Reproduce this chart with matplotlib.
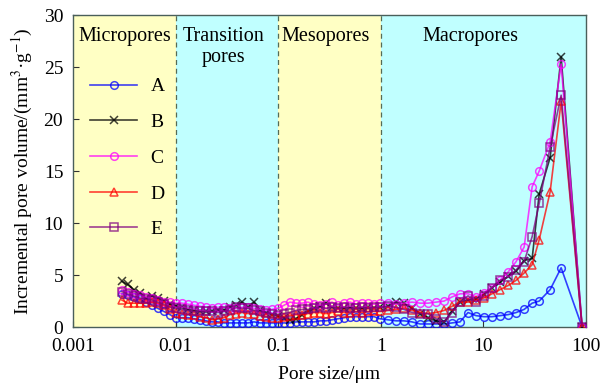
import matplotlib
matplotlib.use("Agg")
import matplotlib.pyplot as plt

plt.rcParams['font.family'] = ['Liberation Serif', 'DejaVu Serif']
plt.rcParams['mathtext.fontset'] = 'stix'

pore_size = [0.0030, 0.0034, 0.0039, 0.0045, 0.0051, 0.0059, 0.0067, 0.0077, 0.0088, 0.0101,
             0.0115, 0.0132, 0.0151, 0.0173, 0.0198, 0.0226, 0.0259, 0.0296, 0.0339, 0.0388,
             0.0444, 0.0508, 0.0581, 0.0665, 0.0761, 0.0870, 0.0995, 0.114, 0.130, 0.149,
             0.171, 0.195, 0.223, 0.256, 0.292, 0.334, 0.383, 0.438, 0.501, 0.573,
             0.656, 0.750, 0.858, 0.982, 1.175, 1.41, 1.68, 2.01, 2.41, 2.88,
             3.45, 4.13, 4.94, 5.91, 7.07, 8.46, 10.1, 12.1, 14.5, 17.4,
             20.8, 24.9, 29.8, 34.9, 44.6, 57.1, 91.4]

A = [3.2, 3.1, 2.9, 2.7, 2.4, 2.1, 1.8, 1.5, 1.2, 0.9,
     0.9, 0.9, 0.8, 0.7, 0.6, 0.5, 0.5, 0.4, 0.4, 0.4,
     0.4, 0.4, 0.5, 0.4, 0.4, 0.4, 0.4, 0.4, 0.4, 0.5,
     0.5, 0.5, 0.5, 0.6, 0.6, 0.7, 0.8, 0.9, 1.0, 1.0,
     1.0, 1.0, 1.0, 0.8, 0.7, 0.6, 0.6, 0.5, 0.3, 0.3,
     0.3, 0.3, 0.4, 0.5, 1.4, 1.1, 1.0, 1.0, 1.1, 1.2,
     1.4, 1.7, 2.3, 2.5, 3.6, 5.7, 0.0]

B = [4.4, 4.1, 3.6, 3.3, 2.8, 3.0, 2.8, 2.5, 2.2, 2.0,
     1.9, 1.7, 1.6, 1.5, 1.5, 1.5, 1.6, 1.6, 1.9, 2.1,
     2.4, 1.9, 2.4, 1.6, 1.4, 1.2, 1.1, 0.9, 0.7, 0.8,
     1.2, 1.5, 1.8, 2.0, 2.3, 1.9, 1.8, 1.8, 1.9, 1.8,
     1.8, 1.9, 1.8, 1.9, 2.0, 2.4, 2.3, 1.8, 1.3, 0.9,
     0.6, 0.5, 1.5, 2.4, 2.6, 2.7, 3.2, 3.8, 4.3, 4.9,
     5.4, 6.4, 6.6, 12.8, 16.3, 26.0, 0.0]

C = [3.6, 3.4, 3.2, 3.1, 2.9, 2.8, 2.6, 2.4, 2.4, 2.3,
     2.3, 2.2, 2.1, 2.0, 1.9, 1.8, 1.9, 1.9, 1.8, 1.8,
     1.9, 1.9, 1.8, 1.7, 1.6, 1.7, 1.8, 2.1, 2.4, 2.3,
     2.3, 2.4, 2.2, 2.1, 2.2, 2.4, 2.1, 2.3, 2.4, 2.2,
     2.3, 2.3, 2.2, 2.3, 2.3, 2.2, 2.3, 2.4, 2.3, 2.3,
     2.4, 2.5, 2.9, 3.2, 3.2, 2.9, 3.3, 3.8, 4.5, 5.3,
     6.3, 7.7, 13.5, 15.0, 17.8, 25.3, 0.0]

D = [2.6, 2.3, 2.3, 2.3, 2.3, 2.4, 2.3, 2.1, 1.7, 1.4,
     1.3, 1.2, 1.2, 1.0, 0.9, 0.7, 0.8, 0.9, 1.2, 1.3,
     1.4, 1.3, 1.3, 1.1, 1.0, 0.9, 0.9, 1.0, 1.1, 1.2,
     1.2, 1.3, 1.4, 1.4, 1.3, 1.4, 1.5, 1.4, 1.4, 1.5,
     1.4, 1.5, 1.5, 1.5, 1.6, 1.7, 1.8, 1.6, 1.4, 1.3,
     1.4, 1.6, 2.0, 2.4, 2.4, 2.6, 2.8, 3.2, 3.6, 4.0,
     4.5, 5.2, 6.0, 8.4, 13.0, 21.7, 0.0]

E = [3.4, 3.2, 3.0, 2.8, 2.7, 2.6, 2.4, 2.2, 1.9, 1.8,
     1.7, 1.6, 1.5, 1.5, 1.5, 1.5, 1.4, 1.5, 1.6, 1.9,
     1.8, 1.8, 1.6, 1.5, 1.4, 1.3, 1.2, 1.3, 1.4, 1.6,
     1.7, 1.7, 1.8, 1.9, 1.8, 1.9, 1.8, 1.9, 1.8, 1.8,
     1.9, 1.8, 1.9, 1.9, 2.0, 1.9, 1.7, 1.4, 1.3, 1.3,
     0.8, 0.5, 1.4, 2.4, 3.0, 2.4, 3.0, 3.8, 4.5, 4.8,
     5.5, 6.3, 8.7, 11.9, 17.3, 22.3, 0.0]

series_names = ['A', 'B', 'C', 'D', 'E']
series_vals = [A, B, C, D, E]
colors = ['#0000ff', '#000000', '#ff00ff', '#ff0000', '#800080']
markers = ['o', 'x', 'o', '^', 's']

region_bounds = [0.001, 0.01, 0.1, 1, 100]
region_colors = ['#ffffc4', '#c0ffff', '#ffffc4', '#c0ffff']
region_labels = ['Micropores', 'Transition\npores', 'Mesopores', 'Macropores']
region_label_x = [0.00318, 0.0296, 0.292, 7.4]

fig = plt.figure(figsize=(6.03, 3.88), dpi=100)
ax = fig.add_axes([0.121, 0.157, 0.851, 0.804])

for i in range(4):
    ax.axvspan(region_bounds[i], region_bounds[i + 1], color=region_colors[i], zorder=0, lw=0)
for b in region_bounds[1:4]:
    ax.axvline(b, color='#556b55', ls=(0, (4, 3)), lw=0.9, zorder=1)

for name, vals, c, m in zip(series_names, series_vals, colors, markers):
    ms = 5.5 if m != 'x' else 6
    ax.plot(pore_size, vals, color=c, marker=m, ms=ms, mfc='none', mew=1.1,
            lw=1.2, label=name, alpha=0.75, zorder=3)

for lab, xl in zip(region_labels, region_label_x):
    ax.text(xl, 28.9, lab, ha='center', va='top', fontsize=14.5, linespacing=1.15, zorder=4)

ax.set_xscale('log')
ax.set_xlim(0.001, 100)
ax.set_ylim(0, 30)
ax.set_xticks([0.001, 0.01, 0.1, 1, 10, 100])
ax.set_xticklabels(['0.001', '0.01', '0.1', '1', '10', '100'])
ax.xaxis.set_minor_locator(matplotlib.ticker.NullLocator())
ax.set_yticks([0, 5, 10, 15, 20, 25, 30])
ax.tick_params(direction='in', labelsize=14, length=4, color='#333333')
ax.tick_params(axis='x', pad=8)
ax.tick_params(axis='y', pad=7)
for s in ax.spines.values():
    s.set_color('#4a5f5a')
    s.set_linewidth(1.0)

ax.set_xlabel('Pore size/μm', fontsize=14, labelpad=8)
ax.set_ylabel(r'Incremental pore volume/(mm$^3$·g$^{-1}$)', fontsize=14, labelpad=6)

leg = ax.legend(loc='upper left', bbox_to_anchor=(0.0, 0.855), frameon=False,
                fontsize=14, labelspacing=0.93, handlelength=2.4, handletextpad=0.7)

fig.savefig('out.png', dpi=100)
